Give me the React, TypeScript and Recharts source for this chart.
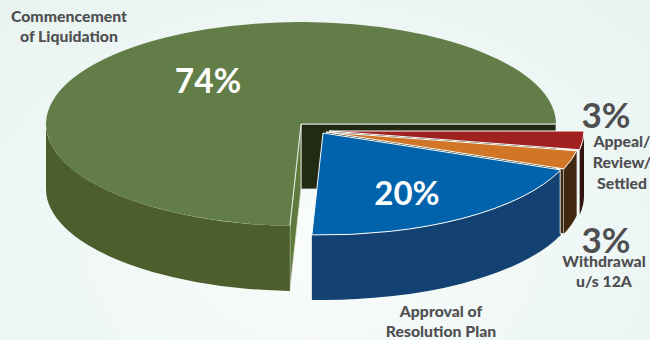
import React from "react";
import { PieChart, Pie } from "recharts";

// Outcome shares of closed cases
const categories = ["Commencement of Liquidation", "Approval of Resolution Plan", "Withdrawal u/s 12A", "Appeal/ Review/ Settled"];
const shares = [74, 20, 3, 3];
const captionLines = [
  ["Commencement", "of Liquidation"],
  ["Approval of", "Resolution Plan"],
  ["Withdrawal", "u/s 12A"],
  ["Appeal/", "Review/", "Settled"],
];

const data = categories.map((name, i) => ({ name, value: shares[i], idx: i }));

const TILT = 0.4;
const DEPTH = 65;
const FONT = "Lato, 'Open Sans', sans-serif";
const INK = "#4f4f51";

// Per-slice look: pull-out offset, top colour, rim colour
const explode = [
  { dx: 0, dy: 0 },
  { dx: 22, dy: 9 },
  { dx: 25, dy: 8 },
  { dx: 28, dy: 7 },
];
const topFill = ["#627d48", "#0063ac", "#d17527", "#a12020"];
const rimFill = ["#4c5e2c", "#134272", "#42280e", "#33130f"];

// Anchors for the text around the pie
const valueAnchor = [
  { x: 208, y: 93, size: 33.5, fill: "#fff" },
  { x: 407, y: 205, size: 33, fill: "#fff" },
  { x: 606, y: 253, size: 35, fill: INK },
  { x: 606, y: 128, size: 35, fill: INK },
];
const captionAnchor = [
  { x: 69, y: 22, gap: 20 },
  { x: 441, y: 317, gap: 20 },
  { x: 604, y: 267, gap: 20 },
  { x: 622, y: 147, gap: 21 },
];

const rad = (a: number) => (a * Math.PI) / 180;

// Small correction for the oblique view: the near edge leans slightly towards the centre
const viewAngle = (a: number) => a - 1.1 * Math.sin(rad(a));

function Slice(props: any) {
  const { cx, cy, outerRadius, startAngle, endAngle, payload } = props;
  const i: number = payload.idx;
  const ox = cx + explode[i].dx;
  const oy = cy + explode[i].dy;
  const rx = outerRadius;
  const ry = outerRadius * TILT;
  const pt = (a: number, t = 1, drop = 0): [number, number] => [
    ox + rx * t * Math.cos(rad(a)),
    oy - ry * t * Math.sin(rad(a)) + drop,
  ];
  const poly = (pts: [number, number][]) => "M" + pts.map((p) => p.join(",")).join("L") + "Z";

  const a = viewAngle(startAngle);
  const b = viewAngle(endAngle);
  const p1 = pt(a);
  const p2 = pt(b);
  const large = b - a > 180 ? 1 : 0;
  const top = `M${ox},${oy}L${p1[0]},${p1[1]}A${rx},${ry} 0 ${large} 0 ${p2[0]},${p2[1]}Z`;

  // Outer rim: only the part that faces the viewer
  const w1 = Math.max(a, 180);
  const w2 = Math.min(b, 360);
  const r1 = pt(w1);
  const r2 = pt(w2);
  const r2d = pt(w2, 1, DEPTH);
  const r1d = pt(w1, 1, DEPTH);
  const rim =
    `M${r1[0]},${r1[1]}A${rx},${ry} 0 0 0 ${r2[0]},${r2[1]}` +
    `L${r2d[0]},${r2d[1]}A${rx},${ry} 0 0 1 ${r1d[0]},${r1d[1]}Z`;

  return (
    <g>
      {i === 0 && (
        <>
          {/* cut faces of the large slice */}
          <path d={poly([[ox, oy], p1, pt(a, 1, DEPTH), [ox, oy + DEPTH]])} fill="#222a14" stroke="#dfe6dc" strokeWidth={0.8} />
          <path d={poly([[ox, oy], p2, pt(b, 1, DEPTH), [ox, oy + DEPTH]])} fill="#5f7a3c" stroke="#e4eadf" strokeWidth={0.8} />
        </>
      )}
      {i === 2 && (
        <path d={poly([pt(a, 0.985), p1, pt(a, 1, DEPTH), pt(a, 0.985, DEPTH)])} fill="#3c2a12" stroke="#f4f6f2" strokeWidth={0.9} />
      )}
      <path d={rim} fill={rimFill[i]} />
      <path d={top} fill={topFill[i]} stroke={i === 0 ? "none" : "#fbfcfa"} strokeWidth={1} strokeLinejoin="round" />
      {i === 0 && (
        <path d={`M${p1[0]},${p1[1]}L${ox},${oy}L${p2[0]},${p2[1]}`} fill="none" stroke="#e4eadf" strokeWidth={1} />
      )}
    </g>
  );
}

function SliceText(props: any) {
  const i: number = props.index;
  const v = valueAnchor[i];
  const c = captionAnchor[i];
  return (
    <g fontFamily={FONT} fontWeight={900} textAnchor="middle">
      <text x={v.x} y={v.y} fontSize={v.size} fill={v.fill} fontWeight={700}>
        {shares[i]}%
      </text>
      <text fontSize={15.8} fill={INK}>
        {captionLines[i].map((line, k) => (
          <tspan key={line} x={c.x} y={c.y + k * c.gap}>
            {line}
          </tspan>
        ))}
      </text>
    </g>
  );
}

export default function App() {
  return (
    <div
      style={{
        position: "absolute",
        left: 0,
        top: 0,
        width: 650,
        height: 340,
        overflow: "hidden",
        background: "radial-gradient(ellipse at 48% 72%, #f9fcfb 0%, #eef7f5 60%, #e8f3f0 100%)",
      }}
    >
      <PieChart width={650} height={340} margin={{ top: 0, right: 0, bottom: 0, left: 0 }}>
        <Pie
          data={data}
          dataKey="value"
          nameKey="name"
          cx={301}
          cy={124}
          innerRadius={0}
          outerRadius={255}
          startAngle={0}
          endAngle={360}
          paddingAngle={0}
          stroke="none"
          isAnimationActive={false}
          shape={Slice}
          label={SliceText}
          labelLine={false}
        />
      </PieChart>
    </div>
  );
}
